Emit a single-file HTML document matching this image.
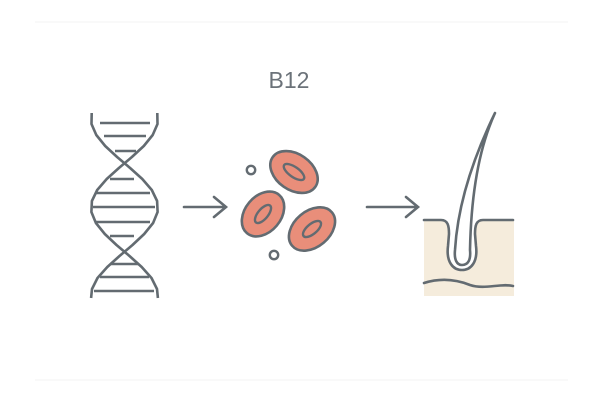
<!DOCTYPE html>
<html><head><style>
html,body{margin:0;padding:0;background:#fff;width:600px;height:400px;overflow:hidden}
</style></head><body>
<svg width="600" height="400" viewBox="0 0 600 400" xmlns="http://www.w3.org/2000/svg">
<line x1="35" y1="22" x2="568" y2="22" stroke="#f3f3f3" stroke-width="1"/>
<line x1="35" y1="380" x2="568" y2="380" stroke="#f3f3f3" stroke-width="1"/>
<text x="289" y="88" text-anchor="middle" font-family="Liberation Sans, sans-serif" font-size="23" fill="#6b7279">B12</text>
<g stroke="#636b71" stroke-width="2.6" fill="none" stroke-linejoin="round">
<polyline points="91.7,113 91.5,124 96.3,135 105.2,146 117.1,157 130.1,168 142.3,179 151.8,190 157.1,201 157.6,212 153.1,223 144.2,234 132.5,245 119.5,256 107.3,267 97.5,278 92,289 91.1,298"/>
<polyline points="157.3,113 157.5,124 152.7,135 143.8,146 131.9,157 118.9,168 106.7,179 97.2,190 91.9,201 91.4,212 95.9,223 104.8,234 116.5,245 129.5,256 141.7,267 151.5,278 157,289 157.9,298"/>
<path d="M100 123H150 M104 136H146 M115 151H136 M110 179H134 M96 193H150 M93 207H155 M96 222H150 M110 236H134 M110 264H138 M100 277H149 M94 291H154"/>
</g>
<g stroke="#636b71" stroke-width="2.6" fill="none" stroke-linecap="round">
<path d="M184 207H226 M214 197L226 207L214 217"/>
<path d="M367 207H417 M406 197L418 207L406 217"/>
</g>
<g stroke="#636b71" stroke-width="2.6" fill="#e98e7a">
<ellipse cx="294" cy="172" rx="26" ry="18" transform="rotate(35 294 172)"/>
<ellipse cx="263" cy="214" rx="25" ry="18" transform="rotate(-50 263 214)"/>
<ellipse cx="312" cy="229" rx="26" ry="18" transform="rotate(-40 312 229)"/>
</g>
<g stroke="#636b71" stroke-width="2.4" fill="none">
<ellipse cx="294" cy="172" rx="12" ry="5" transform="rotate(35 294 172)"/>
<ellipse cx="263" cy="214" rx="11" ry="5" transform="rotate(-50 263 214)"/>
<ellipse cx="312" cy="229" rx="11" ry="5" transform="rotate(-40 312 229)"/>
<circle cx="251" cy="170" r="4.2"/>
<circle cx="274" cy="255" r="4.2"/>
</g>
<rect x="424" y="220" width="90" height="76" fill="#f5ecdc"/>
<g stroke="#636b71" stroke-width="2.6" fill="none" stroke-linecap="round" stroke-linejoin="round">
<path d="M424 220H441 C448 220 449 226 449 234 L448 246 C446 262 453 270 462 270 C471 270 478 262 476 246 L475 234 C475 226 476 220 483 220 H513" fill="#fff"/>
<path d="M455 250 C454 260 457 265 462 265 C468 265 471 260 470 250 C471 200 478 150 495 113 C477 150 458 200 455 250 Z" fill="#fff"/>
<path d="M424 283 C440 278,455 279,470 285 C485 290,500 283,513 286"/>
</g>
</svg>
</body></html>
